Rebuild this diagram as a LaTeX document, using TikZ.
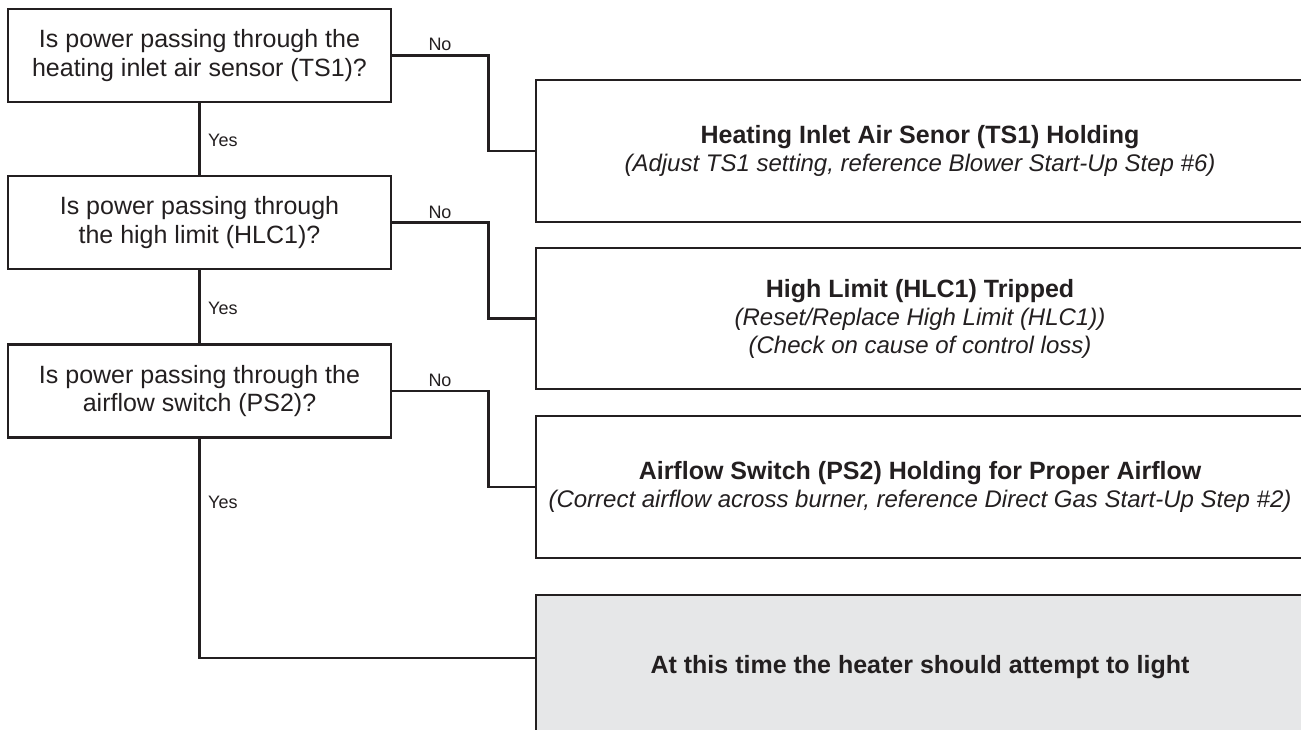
\documentclass[tikz,border=0pt]{standalone}
\usepackage{fontspec}
\setmainfont{Liberation Sans}
\definecolor{ink}{HTML}{231F20}
\definecolor{lightfill}{HTML}{E6E7E8}
\begin{document}
\begin{tikzpicture}[x=1pt,y=-1pt]
\tikzset{
  qbox/.style={draw=ink, line width=2.5pt, minimum width=383pt, minimum height=93pt,
    inner sep=0pt, align=center, text=ink, font=\fontsize{25}{28.5}\selectfont},
  rbox/.style={draw=ink, line width=2.5pt, minimum width=768pt,
    inner sep=0pt, align=center, text=ink, font=\fontsize{24}{28}\selectfont},
  conn/.style={draw=ink, line width=2.5pt},
  lbl/.style={text=ink, inner sep=0pt, font=\fontsize{18}{18}\selectfont}
}
\useasboundingbox (0,0) rectangle (1301,730);
\clip (0,0) rectangle (1301,730);
\fill[white] (0,0) rectangle (1301,730);

\node[qbox] (q1) at (199.5,55.5) {Is power passing through the\\heating inlet air sensor (TS1)?};
\node[qbox] (q2) at (199.5,222.5) {Is power passing through\\the high limit (HLC1)?};
\node[qbox] (q3) at (199.5,391) {Is power passing through the\\airflow switch (PS2)?};

\node[rbox, minimum height=142pt] (r1) at (920,151)
  {{\fontsize{25}{28}\selectfont\bfseries Heating Inlet Air Senor (TS1) Holding}\\
   \itshape (Adjust TS1 setting, reference Blower Start-Up Step \#6)};
\node[rbox, minimum height=141pt] (r2) at (920,318.5)
  {{\fontsize{25}{28}\selectfont\bfseries High Limit (HLC1) Tripped}\\
   \itshape (Reset/Replace High Limit (HLC1))\\
   \itshape (Check on cause of control loss)};
\node[rbox, minimum height=142pt] (r3) at (920,487)
  {{\fontsize{25}{28}\selectfont\bfseries Airflow Switch (PS2) Holding for Proper Airflow}\\
   \itshape (Correct airflow across burner, reference Direct Gas Start-Up Step \#2)};
\node[rbox, minimum height=144pt, fill=lightfill] (r4) at (920,667)
  {\fontsize{25}{28}\selectfont\bfseries At this time the heater should attempt to light};

\draw[conn] (q1.east) -- ++(96,0) |- (r1.west);
\draw[conn] (q2.east) -- ++(96,0) |- (r2.west);
\draw[conn] (q3.east) -- ++(96,0) |- (r3.west);
\draw[conn] (q1.south) -- (q2.north);
\draw[conn] (q2.south) -- (q3.north);
\draw[conn] (q3.south) |- ([yshift=9pt]r4.west);

\node[lbl] (n1) at (440,44) {No};
\node[lbl] (n2) at (440,212) {No};
\node[lbl] (n3) at (440,380) {No};
\node[lbl, anchor=west] (y1) at (208,140) {Yes};
\node[lbl, anchor=west] (y2) at (208,308) {Yes};
\node[lbl, anchor=west] (y3) at (208,502) {Yes};
\end{tikzpicture}
\end{document}
